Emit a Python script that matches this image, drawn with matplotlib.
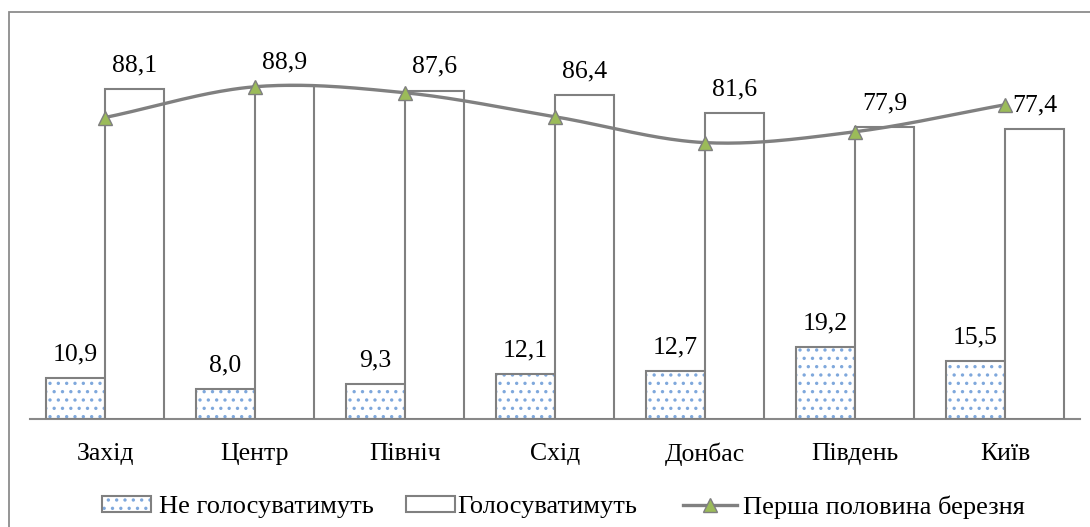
import numpy as np
import matplotlib
matplotlib.use('Agg')
import matplotlib.pyplot as plt
from matplotlib.patches import Rectangle, Patch
from matplotlib.lines import Line2D

categories = ['Захід', 'Центр', 'Північ', 'Схід', 'Донбас', 'Південь', 'Київ']
not_vote = [10.9, 8.0, 9.3, 12.1, 12.7, 19.2, 15.5]
vote = [88.1, 88.9, 87.6, 86.4, 81.6, 77.9, 77.4]
march_first_half = [80.4, 88.6, 87.0, 80.6, 73.7, 76.6, 83.8]
series_labels = ['Не голосуватимуть', 'Голосуватимуть', 'Перша половина березня']

plt.rcParams['font.family'] = ['Liberation Serif', 'DejaVu Serif']
plt.rcParams['hatch.linewidth'] = 1.2

W, H = 1090, 527
FS = 18.5
LFS = 19
fig = plt.figure(figsize=(W / 100, H / 100), dpi=100)
fig.patches.append(Rectangle((9 / W, -0.1), 1.2, (H - 12) / H + 0.1,
                             transform=fig.transFigure, fill=False,
                             edgecolor='#8c8c8c', lw=1.3))

ax = fig.add_axes([30 / W, 108 / H, 1050 / W, 375 / H])
x = np.arange(len(categories))
bw = 0.393
off = 0.197
dot_color = '#7fa8dc'
edge = '#808080'
line_color = '#808080'
marker_color = '#9bbb59'

ax.bar(x - off, not_vote, bw, color='white', edgecolor=dot_color, hatch='..', linewidth=0, zorder=2)
ax.bar(x - off, not_vote, bw, fill=False, edgecolor=edge, linewidth=1.5, zorder=3)
ax.bar(x + off, vote, bw, color='white', edgecolor=edge, linewidth=1.5, zorder=3)


def smooth(xs, ys, n=40):
    xs = np.asarray(xs, float)
    ys = np.asarray(ys, float)
    m = np.gradient(ys, xs)
    px, py = [], []
    for i in range(len(xs) - 1):
        t = np.linspace(0, 1, n)
        dx = xs[i + 1] - xs[i]
        h00 = 2 * t**3 - 3 * t**2 + 1
        h10 = t**3 - 2 * t**2 + t
        h01 = -2 * t**3 + 3 * t**2
        h11 = t**3 - t**2
        py.append(h00 * ys[i] + h10 * dx * m[i] + h01 * ys[i + 1] + h11 * dx * m[i + 1])
        px.append(xs[i] + t * dx)
    return np.concatenate(px), np.concatenate(py)


sx, sy = smooth(x, march_first_half)
ax.plot(sx, sy, color=line_color, lw=2.4, zorder=4, solid_capstyle='round')
ax.plot(x, march_first_half, linestyle='none', marker='^', ms=10,
        mfc=marker_color, mec='#7f7f7f', mew=1.0, zorder=5)


def fmt(v):
    return f"{v:.1f}".replace('.', ',')


for xi, v in zip(x, not_vote):
    ax.annotate(fmt(v), (xi - off, v), xytext=(0, 17), textcoords='offset points',
                ha='center', va='center', fontsize=FS)
for xi, v in zip(x, vote):
    ax.annotate(fmt(v), (xi + off, v), xytext=(0, 17), textcoords='offset points',
                ha='center', va='center', fontsize=FS)

ax.set_xlim(-0.5, len(categories) - 0.5)
ax.set_ylim(0, 100)
ax.set_yticks([])
ax.set_xticks(x, categories, fontsize=FS)
ax.tick_params(axis='x', length=0, pad=17)
for s in ['left', 'right', 'top']:
    ax.spines[s].set_visible(False)
ax.spines['bottom'].set_color('#898989')
ax.spines['bottom'].set_linewidth(1.5)
ax.patch.set_alpha(0)

h1 = (Patch(facecolor='white', edgecolor=dot_color, hatch='..', linewidth=0),
      Patch(fill=False, edgecolor=edge, linewidth=1.5))
h2 = Patch(facecolor='white', edgecolor=edge, linewidth=1.5)
h3 = Line2D([], [], color=line_color, lw=2.4, marker='^', ms=10,
            mfc=marker_color, mec='#7f7f7f', mew=1.0)

ly = 20 / H
common = dict(loc='center left', frameon=False, borderpad=0, borderaxespad=0,
              fontsize=LFS, handleheight=0.57)
leg1 = fig.legend([h1], [series_labels[0]], bbox_to_anchor=(102 / W, ly),
                  handlelength=1.86, handletextpad=0.3, **common)
leg2 = fig.legend([h2], [series_labels[1]], bbox_to_anchor=(406 / W, ly),
                  handlelength=1.86, handletextpad=0.08, **common)
leg3 = fig.legend([h3], [series_labels[2]], bbox_to_anchor=(683 / W, ly),
                  handlelength=2.05, handletextpad=0.23, **common)

fig.savefig('out.png', dpi=100)
